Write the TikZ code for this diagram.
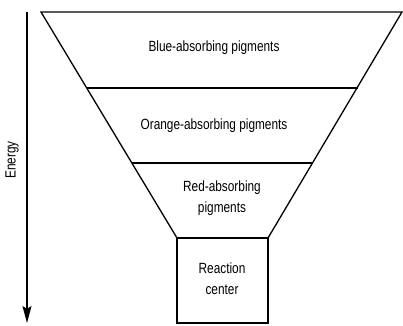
\documentclass[tikz,border=0pt]{standalone}
\usepackage{fontspec}
\setmainfont{Liberation Sans}[FakeStretch=0.8]
\usetikzlibrary{arrows.meta,positioning}

\begin{document}
\begin{tikzpicture}[
        x=1pt, y=-1pt,
        line width=1.3pt,
        >={Stealth[length=17pt,width=9pt,inset=3pt]},
        every node/.style={font=\fontsize{14.8}{21}\selectfont, align=center, inner sep=0pt}
        ]
        \useasboundingbox (0,0) rectangle (403,325);

        % Funnel corners
        \coordinate (tl) at (41,12);
        \coordinate (tr) at (402,12);
        \coordinate (al) at (87,88);
        \coordinate (ar) at (358,88);
        \coordinate (bl) at (132,163);
        \coordinate (br) at (313,163);
        \coordinate (cl) at (177,238);
        \coordinate (cr) at (268,238);
        \coordinate (dl) at (177,323);
        \coordinate (dr) at (268,323);

        % Funnel and reaction box
        \draw (tl) -- (tr) -- (cr) -- (cl) -- cycle;
        \draw (al) -- (ar);
        \draw (bl) -- (br);
        \draw (cl) rectangle (dr);

        % Labels
        \node (blue)     at (214,48)  {Blue-absorbing pigments};
        \node (orange)   at (214,126) {Orange-absorbing pigments};
        \node (red)      at (222,198) {Red-absorbing\\pigments};
        \node (reaction) at (222,279) {Reaction\\center};

        % Energy axis
        \coordinate (etop) at (27,12);
        \coordinate (ebot) at (27,323);
        \draw[->, line width=1.1pt] (etop) -- (ebot);
        \node (energy) [rotate=90] at (12,160) {Energy};
      \end{tikzpicture}
\end{document}
